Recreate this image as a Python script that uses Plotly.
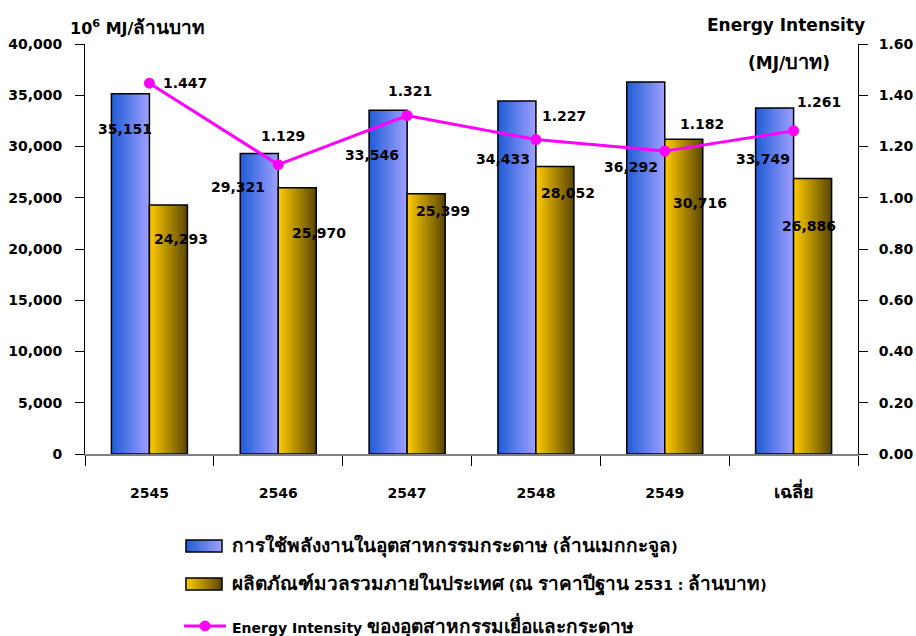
import re
import plotly.graph_objects as go

# ---------------- data ----------------
categories = ["2545", "2546", "2547", "2548", "2549", "เฉลี่ย"]
energy_use = [35151, 29321, 33546, 34433, 36292, 33749]   # ล้านเมกกะจูล
gdp = [24293, 25970, 25399, 28052, 30716, 26886]           # ล้านบาท
intensity = [1.447, 1.129, 1.321, 1.227, 1.182, 1.261]     # MJ/บาท

energy_labels = [f"{v:,}" for v in energy_use]
gdp_labels = [f"{v:,}" for v in gdp]
intensity_labels = [f"{v:.3f}" for v in intensity]

legend_names = [
    "การใช้พลังงานในอุตสาหกรรมกระดาษ (ล้านเมกกะจูล)",
    "ผลิตภัณฑ์มวลรวมภายในประเทศ (ณ ราคาปีฐาน 2531 : ล้านบาท)",
    "Energy Intensity ของอุตสาหกรรมเยื่อและกระดาษ",
]

# ---------------- style / layout ----------------
W, H = 916, 636
ML, MR, MT, MB = 85, 58, 44, 182
PW, PH = W - ML - MR, H - MT - MB
FONT = "DejaVu Sans, Noto Sans, sans-serif"
BW = 0.295
NSL = 24
BLUE = ((0x1f, 0x5c, 0xd6), (0xa0, 0xa0, 0xff))
GOLD = ((0xff, 0xcc, 0x00), (0x5a, 0x46, 0x00))
MAG = "#ff00ff"

# label pixel offsets (xshift, yshift)
energy_off = [(-24, -35), (-40, -34), (-35, -45), (-33, -58), (-34, -85), (-31, -51)]
gdp_off = [(32, -34), (41, -45), (36, -17), (32, -27), (35, -64), (15, -48)]
int_off = [(36, 0), (5, 29), (3, 24), (28, 24), (37, 27), (25, 29)]


def mix(c, t):
    a, b = c
    return "rgb(%d,%d,%d)" % tuple(round(a[k] + (b[k] - a[k]) * t) for k in range(3))


def px(x):
    return (x - ML) / PW


def py(y):
    return (H - MB - y) / PH


def thai(s, size):
    return re.sub(r"([\u0E00-\u0E7F]+)",
                  lambda m: '<span style="font-size:%dpx">%s</span>' % (size, m.group(1)), s)


fig = go.Figure()

for vals, base, grad in ((energy_use, -BW, BLUE), (gdp, 0.0, GOLD)):
    for i in range(NSL):
        fig.add_trace(go.Bar(
            x=categories, y=vals, offset=base + i * BW / NSL, width=BW * (NSL - i) / NSL,
            marker=dict(color=mix(grad, (i + 0.5) / NSL), line=dict(width=0)),
            showlegend=False, hoverinfo="skip"))
    fig.add_trace(go.Bar(
        x=categories, y=vals, offset=base, width=BW,
        marker=dict(color="rgba(0,0,0,0)", line=dict(color="black", width=1.5)),
        showlegend=False, hoverinfo="skip"))

fig.add_trace(go.Scatter(
    x=categories, y=intensity, yaxis="y2", mode="lines+markers",
    line=dict(color=MAG, width=3), marker=dict(color=MAG, size=11),
    showlegend=False, cliponaxis=False))

ann = []
lab_font = dict(family=FONT, size=14, color="black", weight="bold")
for k, (v, t, (dx, dy)) in enumerate(zip(energy_use, energy_labels, energy_off)):
    ann.append(dict(x=k, y=v, xref="x", yref="y", text=t, showarrow=False,
                    xanchor="center", yanchor="middle", xshift=dx, yshift=dy, font=lab_font))
for k, (v, t, (dx, dy)) in enumerate(zip(gdp, gdp_labels, gdp_off)):
    ann.append(dict(x=k, y=v, xref="x", yref="y", text=t, showarrow=False,
                    xanchor="center", yanchor="middle", xshift=dx, yshift=dy, font=lab_font))
for k, (v, t, (dx, dy)) in enumerate(zip(intensity, intensity_labels, int_off)):
    ann.append(dict(x=k, y=v, xref="x", yref="y2", text=t, showarrow=False,
                    xanchor="center", yanchor="middle", xshift=dx, yshift=dy, font=lab_font))

# axis titles
title_font = dict(family=FONT, size=16, color="black", weight="bold")
ann.append(dict(x=px(68), y=py(27), xref="paper", yref="paper", xanchor="left", yanchor="middle",
                text="10<sup>6</sup> MJ/" + thai("ล้านบาท", 19), showarrow=False, font=title_font))
ann.append(dict(x=px(786), y=py(25), xref="paper", yref="paper", xanchor="center", yanchor="middle",
                text="Energy Intensity", showarrow=False,
                font=dict(family=FONT, size=17, color="black", weight="bold")))
ann.append(dict(x=px(789), y=py(62), xref="paper", yref="paper", xanchor="center", yanchor="middle",
                text="(MJ/" + thai("บาท", 20) + ")", showarrow=False,
                font=dict(family=FONT, size=17, color="black", weight="bold")))

# custom legend
shapes = []
for (y0, y1, grad) in ((540, 552, BLUE), (578, 590, GOLD)):
    x0, x1 = 186, 222
    for i in range(NSL):
        shapes.append(dict(type="rect", xref="paper", yref="paper",
                           x0=px(x0 + (x1 - x0) * i / NSL), x1=px(x1),
                           y0=py(y0), y1=py(y1), line=dict(width=0),
                           fillcolor=mix(grad, (i + 0.5) / NSL)))
    shapes.append(dict(type="rect", xref="paper", yref="paper", x0=px(x0), x1=px(x1),
                       y0=py(y0), y1=py(y1), line=dict(color="black", width=1.5)))
shapes.append(dict(type="line", xref="paper", yref="paper", x0=px(184), x1=px(226),
                   y0=py(626), y1=py(626), line=dict(color=MAG, width=3)))
shapes.append(dict(type="circle", xref="paper", yref="paper", x0=px(200), x1=px(210),
                   y0=py(621), y1=py(631), line=dict(color=MAG, width=1), fillcolor=MAG))
leg_font = dict(family=FONT, size=14, color="black", weight="bold")
for name, yy in zip(legend_names, (546, 584, 626)):
    ann.append(dict(x=px(230), y=py(yy), xref="paper", yref="paper", xanchor="left",
                    yanchor="middle", text=thai(name, 19), showarrow=False, font=leg_font))

tick_font = dict(family=FONT, size=14, color="black", weight="bold")
fig.update_layout(
    width=W, height=H, margin=dict(l=ML, r=MR, t=MT, b=MB),
    paper_bgcolor="white", plot_bgcolor="white",
    barmode="overlay", showlegend=False,
    font=dict(family=FONT),
    xaxis=dict(type="category", range=[-0.5, 5.5], tickson="boundaries", ticks="outside",
               ticklen=10, tickcolor="black", showline=True, linecolor="#808080", linewidth=2,
               showgrid=False, zeroline=False, automargin=False,
               tickmode="array", tickvals=categories,
               ticktext=[thai(c, 18) for c in categories],
               tickfont=dict(family=FONT, size=14, color="black", weight="bold"),
               ticklabelstandoff=25),
    yaxis=dict(range=[0, 40000], dtick=5000, tickformat=",d", ticks="outside", ticklen=9,
               tickcolor="black", showline=True, linecolor="black", linewidth=1,
               showgrid=False, zeroline=False, tickfont=tick_font, ticklabelstandoff=10,
               automargin=False),
    yaxis2=dict(range=[0, 1.6], dtick=0.2, tickformat=".2f", overlaying="y", side="right",
                ticks="outside", ticklen=9, tickcolor="black", showline=True,
                linecolor="black", linewidth=1, showgrid=False, zeroline=False,
                tickfont=tick_font, ticklabelstandoff=8, automargin=False),
    annotations=ann, shapes=shapes,
)

fig.write_html("out.html")
